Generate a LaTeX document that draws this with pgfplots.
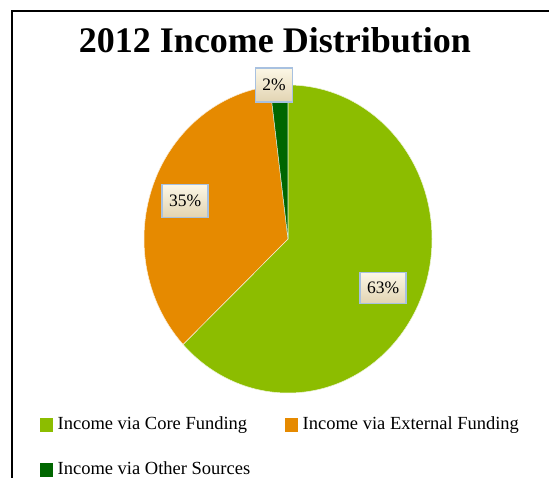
\documentclass[border=0pt]{standalone}
\usepackage{pgfplots}
\pgfplotsset{compat=1.18}
\usepackage{pgfplotstable}
\usepackage{fontspec}
\setmainfont{Liberation Serif}
\definecolor{core}{RGB}{140,189,0}
\definecolor{ext}{RGB}{230,138,0}
\definecolor{oth}{RGB}{0,102,0}
\definecolor{lbltop}{RGB}{252,247,230}
\definecolor{lblbot}{RGB}{226,212,178}
\definecolor{lblbrd}{RGB}{168,193,224}

\pgfplotstableread{
label value
core 63
ext 35
oth 2
}\piedata

\begin{document}
\begin{tikzpicture}[x=1pt,y=1pt]
\pgfplotstablegetelem{0}{value}\of\piedata \let\va\pgfplotsretval
\pgfplotstablegetelem{1}{value}\of\piedata \let\vb\pgfplotsretval
\pgfplotstablegetelem{2}{value}\of\piedata \let\vc\pgfplotsretval
\pgfmathsetmacro\tot{\va+\vb+\vc}
\pgfmathsetmacro\aA{90}
\pgfmathsetmacro\aB{90-360*(\va/\tot)}
\pgfmathsetmacro\aC{\aB-360*(\vb/\tot)}
\pgfmathsetmacro\aD{\aC-360*(\vc/\tot)}

\useasboundingbox (0,0) rectangle (549,478);
\fill[white] (0,0) rectangle (549,478);
\draw[line width=2pt] (12,0) -- (12,467) -- (549,467);
\node[font=\bfseries\fontsize{36}{42}\selectfont, anchor=base, inner sep=0] at (275,425) {2012 Income Distribution};

\begin{axis}[hide axis, x=144pt, y=154pt, xmin=-1, xmax=1, ymin=-1, ymax=1,
  anchor=center, at={(288pt,239pt)}, clip=false,
  legend columns=2,
  legend cell align=left,
  legend style={draw=none, fill=none, at={(-0.361,-0.07)}, anchor=north west,
    font=\fontsize{18.5}{22}\selectfont, inner sep=0pt, row sep=27pt,
    /tikz/every even column/.append style={column sep=33pt}},
  legend image code/.code={\fill[#1] (0pt,-7pt) rectangle (12pt,6pt); \path (15pt,0pt);}
]
\addlegendimage{core}
\addlegendentry{Income via Core Funding}
\addlegendimage{ext}
\addlegendentry{Income via External Funding}
\addlegendimage{oth}
\addlegendentry{Income via Other Sources}

\fill[core, draw=white!85!core, line width=0.5pt] (axis cs:0,0) -- (axis cs:{cos(\aA)},{sin(\aA)}) arc[start angle=\aA, end angle=\aB, x radius=144pt, y radius=154pt] -- cycle;
\fill[ext, draw=white!85!ext, line width=0.5pt] (axis cs:0,0) -- (axis cs:{cos(\aB)},{sin(\aB)}) arc[start angle=\aB, end angle=\aC, x radius=144pt, y radius=154pt] -- cycle;
\fill[oth, draw=white!85!oth, line width=0.5pt] (axis cs:0,0) -- (axis cs:{cos(\aC)},{sin(\aC)}) arc[start angle=\aC, end angle=\aD, x radius=144pt, y radius=154pt] -- cycle;

\tikzset{lbl/.style={draw=lblbrd, line width=1.2pt, top color=lbltop, bottom color=lblbot,
  font=\fontsize{17.5}{20}\selectfont, minimum height=31pt, inner xsep=7pt}}
\node[lbl, minimum height=34pt] at (axis cs:-0.097,1.0) {\vc\%};
\node[lbl] at (axis cs:0.66,-0.318) {\va\%};
\node[lbl, minimum height=33pt] at (axis cs:-0.715,0.247) {\vb\%};
\end{axis}
\end{tikzpicture}
\end{document}
